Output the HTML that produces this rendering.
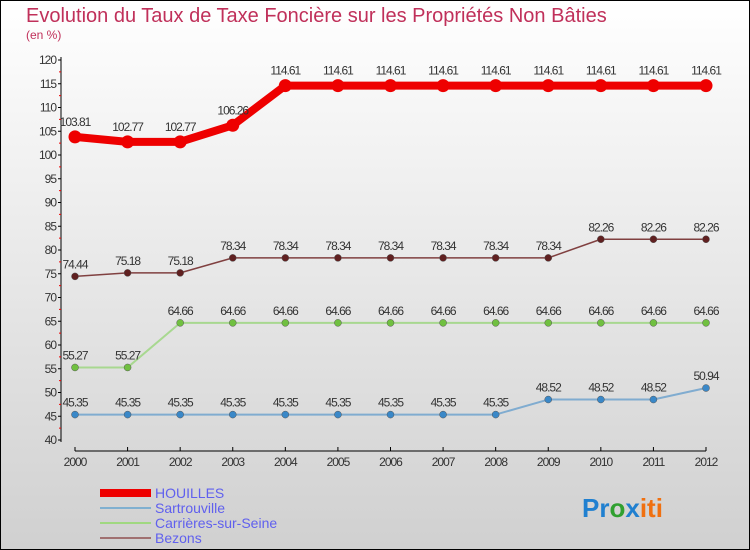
<!DOCTYPE html>
<html><head><meta charset="utf-8"><style>
body{margin:0;width:750px;height:550px;overflow:hidden}
svg{display:block;font-family:"Liberation Sans",sans-serif}
</style></head><body>
<svg id="c" width="750" height="550">
<defs><linearGradient id="bg" x1="0" y1="0" x2="0" y2="1"><stop offset="0" stop-color="#ffffff"/><stop offset="1" stop-color="#d0d0d0"/></linearGradient></defs>
<rect x="0.5" y="0.5" width="749" height="549" fill="url(#bg)" stroke="#000"/>
<text x="26" y="22" font-size="20" fill="#c0305a">Evolution du Taux de Taxe Foncière sur les Propriétés Non Bâties</text>
<text x="26" y="39" font-size="12" fill="#c0305a">(en %)</text>
<g id="axes"></g><g id="series"></g>
<g>
<rect x="100" y="489" width="51" height="8" fill="#e00"/>
<text x="155" y="498" font-size="14" fill="#6060ee">HOUILLES</text>
<line x1="100" y1="508" x2="151" y2="508" stroke="#80b0d0" stroke-width="2"/>
<text x="155" y="513" font-size="14" fill="#6060ee">Sartrouville</text>
<line x1="100" y1="523" x2="151" y2="523" stroke="#a0d880" stroke-width="2"/>
<text x="155" y="528" font-size="14" fill="#6060ee">Carrières-sur-Seine</text>
<line x1="100" y1="538" x2="151" y2="538" stroke="#a07070" stroke-width="2"/>
<text x="155" y="543" font-size="14" fill="#6060ee">Bezons</text>
</g>
<text x="582" y="517" font-size="26" font-weight="bold"><tspan fill="#2080d0">Pr</tspan><tspan fill="#30a030">o</tspan><tspan fill="#2080d0">x</tspan><tspan fill="#f07010">iti</tspan></text>
</svg>
<script>
const years=[2000,2001,2002,2003,2004,2005,2006,2007,2008,2009,2010,2011,2012];
const houilles=[103.81,102.77,102.77,106.26,114.61,114.61,114.61,114.61,114.61,114.61,114.61,114.61,114.61];
const sartrouville=[45.35,45.35,45.35,45.35,45.35,45.35,45.35,45.35,45.35,48.52,48.52,48.52,50.94];
const carrieres=[55.27,55.27,64.66,64.66,64.66,64.66,64.66,64.66,64.66,64.66,64.66,64.66,64.66];
const bezons=[74.44,75.18,75.18,78.34,78.34,78.34,78.34,78.34,78.34,78.34,82.26,82.26,82.26];
const yTicks=[40,45,50,55,60,65,70,75,80,85,90,95,100,105,110,115,120];
const NS="http://www.w3.org/2000/svg";
const x=i=>75+i*(706-75)/(years.length-1);
const y=v=>440-(v-40)*(380/80);
function mk(t,a,p){const e=document.createElementNS(NS,t);for(const k in a)e.setAttribute(k,a[k]);p.appendChild(e);return e;}
const ax=document.getElementById('axes');
let e=mk('line',{x1:61,y1:57,x2:61,y2:442,stroke:'#000'},ax);


e=mk('line',{x1:75,y1:451,x2:706,y2:451,stroke:'#000'},ax);


yTicks.forEach(v=>{
 mk('line',{x1:58,y1:y(v),x2:61,y2:y(v),stroke:'#000'},ax);
 if(v<120)mk('line',{x1:59,y1:y(v+2.5),x2:61,y2:y(v+2.5),stroke:'#e00'},ax);
 const t=mk('text',{x:56,y:y(v)+4,'font-size':12,'text-anchor':'end',fill:'#333','letter-spacing':'-1'},ax);
 t.textContent=v;
 
 
});
years.forEach((yr,i)=>{
 mk('line',{x1:x(i),y1:447,x2:x(i),y2:451,stroke:'#000'},ax);
 const t=mk('text',{x:x(i),y:466,'font-size':12,'text-anchor':'middle',fill:'#333','letter-spacing':'-1'},ax);
 t.textContent=yr;
 
 
});
const sg=document.getElementById('series');
function draw(vals,name,col,dot,w,r){
 const g=mk('g',{},sg);
 
 
 const l=mk('polyline',{points:vals.map((v,i)=>x(i)+','+y(v)).join(' '),fill:'none',stroke:col,'stroke-width':w,'stroke-linejoin':'round'},g);
 
 
 vals.forEach((v,i)=>{
  const c=mk('circle',{cx:x(i),cy:y(v),r:r,fill:dot,stroke:w>3?'none':'#555','stroke-width':0.5},g);
  
  
  const t=mk('text',{x:x(i),y:y(v)-(w>3?11:8),'font-size':12,'text-anchor':'middle',fill:'#333','letter-spacing':'-1'},g);
  t.textContent=v.toFixed(2);
  
  
 });
}
draw(sartrouville,'sartrouville','#80acd0','#3a88c8',2,3.5);
draw(carrieres,'carrieres','#a8d890','#70c040',2,3.5);
draw(bezons,'bezons','#804040','#602020',1.5,3.5);
draw(houilles,'houilles','#ee0000','#ee0000',8,6.5);
</script>
</body></html>
